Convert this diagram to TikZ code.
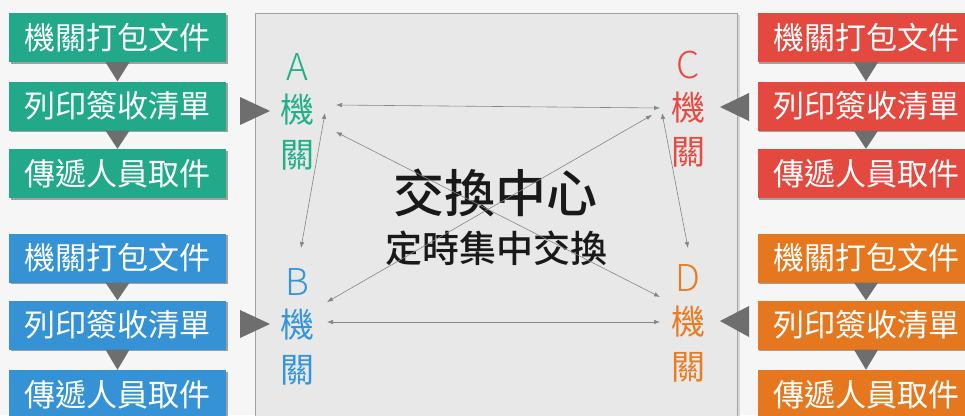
\documentclass[tikz,border=0pt]{standalone}
\usepackage{fontspec}
\setmainfont{Noto Sans CJK TC}
\newfontfamily\cjk{Noto Sans CJK TC}
\newfontfamily\cjklight{Noto Sans CJK TC}[UprightFont={* Light}]
\newfontfamily\cjkmed{Noto Sans CJK TC}[UprightFont={* Medium}]
\usetikzlibrary{arrows.meta,calc,shadows}
\definecolor{bgc}{HTML}{F6F6F6}
\definecolor{panelc}{HTML}{E8E8E8}
\definecolor{panelb}{HTML}{A2A2A2}
\definecolor{gbox}{HTML}{22A98A}
\definecolor{bbox}{HTML}{3593D5}
\definecolor{rbox}{HTML}{E4493F}
\definecolor{obox}{HTML}{E5781F}
\definecolor{gtxt}{HTML}{22AF89}
\definecolor{btxt}{HTML}{3496D8}
\definecolor{rtxt}{HTML}{E64B41}
\definecolor{otxt}{HTML}{E67D22}
\definecolor{trigray}{HTML}{6E6E6E}
\definecolor{arrgray}{HTML}{858585}
\tikzset{
  box/.style={fill=#1, minimum width=217pt, minimum height=49pt, inner sep=0pt,
    text=white, font=\cjk\fontsize{31}{31}\selectfont,
    drop shadow={shadow xshift=1.5pt, shadow yshift=-1.5pt, opacity=0.35, fill=black}},
  lab/.style={text=#1, inner sep=0pt, font=\cjk\fontsize{34}{34}\selectfont},
  letter/.style={text=#1, inner sep=0pt, font=\cjklight\fontsize{37}{37}\selectfont},
  tri/.style={fill=trigray},
  link/.style={draw=arrgray, line width=0.6pt, {Latex[length=6pt,width=4.5pt]}-{Latex[length=6pt,width=4.5pt]}}
}
\begin{document}
\begin{tikzpicture}[x=1pt,y=-1pt]
\useasboundingbox (0,0) rectangle (965,415);
\clip (0,0) rectangle (965,415);
\fill[bgc] (0,0) rectangle (965,415);
% central panel
\fill[black, opacity=0.12] (257,15) rectangle (740,440);
\filldraw[fill=panelc, draw=panelb, line width=0.8pt] (255,13) rectangle (737,440);

% left green
\node[box=gbox] (g1) at (117.5,37.5) {機關打包文件};
\node[box=gbox] (g2) at (117.5,106) {列印簽收清單};
\node[box=gbox] (g3) at (117.5,173.5) {傳遞人員取件};
% left blue
\node[box=bbox] (b1) at (117.5,258) {機關打包文件};
\node[box=bbox] (b2) at (117.5,325) {列印簽收清單};
\node[box=bbox] (b3) at (117.5,394.5) {傳遞人員取件};
% right red
\node[box=rbox] (r1) at (866,37.5) {機關打包文件};
\node[box=rbox] (r2) at (866,106) {列印簽收清單};
\node[box=rbox] (r3) at (866,173.5) {傳遞人員取件};
% right orange
\node[box=obox] (o1) at (866,258) {機關打包文件};
\node[box=obox] (o2) at (866,325) {列印簽收清單};
\node[box=obox] (o3) at (866,394.5) {傳遞人員取件};

% small down triangles
\foreach \u/\v in {g1/g2,g2/g3,b1/b2,b2/b3,r1/r2,r2/r3,o1/o2,o2/o3}{
  \fill[tri] ($(\u.south)+(-12,0)$) -- ($(\u.south)+(12,0)$) -- (\v.north) -- cycle;
}
% big side triangles
\fill[tri] (240,97) -- (240,125) -- (270,111) -- cycle;
\fill[tri] (240,310) -- (240,338) -- (270,324) -- cycle;
\fill[tri] (749,93) -- (749,121) -- (720,107) -- cycle;
\fill[tri] (749,306) -- (749,337) -- (720,321) -- cycle;

% labels
\node[letter=gtxt] (Al) at (297,67) {A};
\node[lab=gtxt] (A1) at (297,110) {機};
\node[lab=gtxt] (A2) at (297,155) {關};
\node[letter=btxt] (Bl) at (297,282) {B};
\node[lab=btxt] (B1) at (297,325) {機};
\node[lab=btxt] (B2) at (297,370) {關};
\node[letter=rtxt] (Cl) at (688,65) {C};
\node[lab=rtxt] (C1) at (688,108) {機};
\node[lab=rtxt] (C2) at (688,152) {關};
\node[letter=otxt] (Dl) at (688,278) {D};
\node[lab=otxt] (D1) at (688,322) {機};
\node[lab=otxt] (D2) at (688,367) {關};

% center text
\node[font=\cjkmed\fontsize{51}{51}\selectfont, text=black!90, inner sep=0pt] (t1) at (495,193) {交換中心};
\node[font=\cjkmed\fontsize{37}{37}\selectfont, text=black!90, inner sep=0pt] (t2) at (496,248) {定時集中交換};

% connector endpoints
\coordinate (ac1) at (336,105); \coordinate (ac2) at (660,108);
\coordinate (ad1) at (336,132); \coordinate (ad2) at (660,297);
\coordinate (bc1) at (327,302); \coordinate (bc2) at (652,115);
\coordinate (bd1) at (327,322); \coordinate (bd2) at (660,322);
\coordinate (ab1) at (325,113); \coordinate (ab2) at (301,248);
\coordinate (cd1) at (662,113); \coordinate (cd2) at (688,248);
\draw[link] (ac1) -- (ac2);
\draw[link] (ad1) -- (ad2);
\draw[link] (bc1) -- (bc2);
\draw[link] (bd1) -- (bd2);
\draw[link] (ab1) -- (ab2);
\draw[link] (cd1) -- (cd2);
\end{tikzpicture}
\end{document}
